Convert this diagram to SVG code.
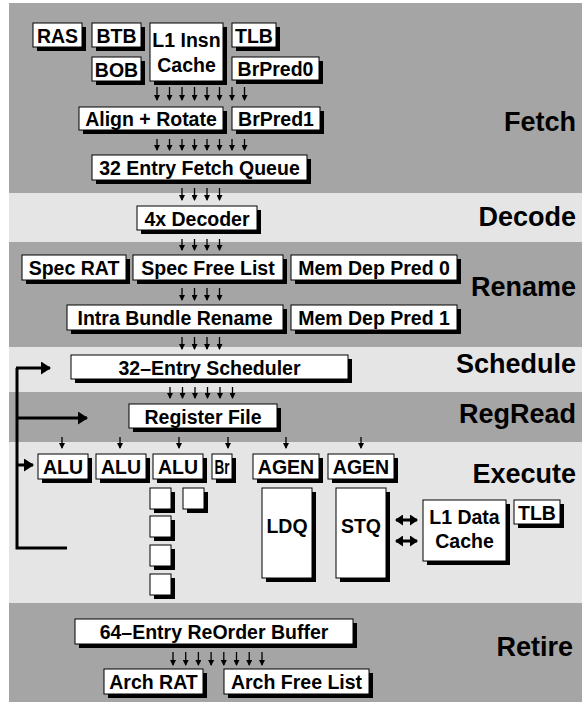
<svg xmlns="http://www.w3.org/2000/svg" width="582" height="704" viewBox="0 0 582 704">
<style>
.dk{fill:#a5a5a5}
.lt{fill:#e5e5e5}
.sh{fill:#000}
.bx{fill:#fff;stroke:#000;stroke-width:1}
.t{font-family:"Liberation Sans",Arial,Helvetica,sans-serif;font-weight:bold;font-size:19.5px;text-anchor:middle;fill:#000}
.lab{font-family:"Liberation Sans",Arial,Helvetica,sans-serif;font-weight:bold;font-size:27px;text-anchor:end;fill:#000}
.a{stroke:#000;stroke-width:1.3;fill:none;marker-end:url(#ah)}
.fb{stroke:#000;stroke-width:3;fill:none}
.fba{stroke:#000;stroke-width:3;fill:none;marker-end:url(#big)}
.dbl{stroke:#000;stroke-width:3;fill:none;marker-start:url(#dh);marker-end:url(#dh)}
</style>
<defs>
<marker id="ah" markerUnits="userSpaceOnUse" markerWidth="6" markerHeight="6" refX="5" refY="3" orient="auto"><path d="M0,0 L6,3 L0,6 z" fill="#000"/></marker>
<marker id="big" markerUnits="userSpaceOnUse" markerWidth="10" markerHeight="13" refX="9" refY="6.5" orient="auto"><path d="M0,0 L10,6.5 L0,13 z" fill="#000"/></marker>
<marker id="dh" markerUnits="userSpaceOnUse" markerWidth="8" markerHeight="11" refX="7" refY="5.5" orient="auto-start-reverse"><path d="M0,0 L8,5.5 L0,11 z" fill="#000"/></marker>
</defs>
<g id="bands">
<rect class="dk" x="9" y="3" width="573" height="190"/>
<rect class="lt" x="9" y="193" width="573" height="49"/>
<rect class="dk" x="9" y="242" width="573" height="105"/>
<rect class="lt" x="9" y="347" width="573" height="45"/>
<rect class="dk" x="9" y="392" width="573" height="50"/>
<rect class="lt" x="9" y="442" width="573" height="161"/>
<rect class="dk" x="9" y="603" width="573" height="99"/>
</g>
<g id="stage-labels">
<text class="lab" x="576" y="131">Fetch</text>
<text class="lab" x="576" y="226">Decode</text>
<text class="lab" x="576" y="296">Rename</text>
<text class="lab" x="576" y="373">Schedule</text>
<text class="lab" x="576" y="423">RegRead</text>
<text class="lab" x="576" y="483">Execute</text>
<text class="lab" x="573" y="656">Retire</text>
</g>
<g id="connectors">
<g id="arr-fetch1">
<line class="a" x1="157" y1="87" x2="157" y2="100"/><line class="a" x1="169.5" y1="87" x2="169.5" y2="100"/><line class="a" x1="182" y1="87" x2="182" y2="100"/><line class="a" x1="194.5" y1="87" x2="194.5" y2="100"/><line class="a" x1="207" y1="87" x2="207" y2="100"/><line class="a" x1="219.5" y1="87" x2="219.5" y2="100"/><line class="a" x1="232" y1="87" x2="232" y2="100"/><line class="a" x1="244.5" y1="87" x2="244.5" y2="100"/>
</g>
<g id="arr-fetch2">
<line class="a" x1="157" y1="139" x2="157" y2="150"/><line class="a" x1="169.5" y1="139" x2="169.5" y2="150"/><line class="a" x1="182" y1="139" x2="182" y2="150"/><line class="a" x1="194.5" y1="139" x2="194.5" y2="150"/><line class="a" x1="207" y1="139" x2="207" y2="150"/><line class="a" x1="219.5" y1="139" x2="219.5" y2="150"/><line class="a" x1="232" y1="139" x2="232" y2="150"/><line class="a" x1="244.5" y1="139" x2="244.5" y2="150"/>
</g>
<g id="arr-4">
<line class="a" x1="182" y1="188" x2="182" y2="200"/><line class="a" x1="194.5" y1="188" x2="194.5" y2="200"/><line class="a" x1="207" y1="188" x2="207" y2="200"/><line class="a" x1="219.5" y1="188" x2="219.5" y2="200"/>
<line class="a" x1="182" y1="239" x2="182" y2="250"/><line class="a" x1="194.5" y1="239" x2="194.5" y2="250"/><line class="a" x1="207" y1="239" x2="207" y2="250"/><line class="a" x1="219.5" y1="239" x2="219.5" y2="250"/>
<line class="a" x1="182" y1="288" x2="182" y2="300"/><line class="a" x1="194.5" y1="288" x2="194.5" y2="300"/><line class="a" x1="207" y1="288" x2="207" y2="300"/><line class="a" x1="219.5" y1="288" x2="219.5" y2="300"/>
<line class="a" x1="182" y1="337" x2="182" y2="349"/><line class="a" x1="194.5" y1="337" x2="194.5" y2="349"/><line class="a" x1="207" y1="337" x2="207" y2="349"/><line class="a" x1="219.5" y1="337" x2="219.5" y2="349"/>
</g>
<g id="arr-6">
<line class="a" x1="170" y1="387" x2="170" y2="398"/><line class="a" x1="182.5" y1="387" x2="182.5" y2="398"/><line class="a" x1="195" y1="387" x2="195" y2="398"/><line class="a" x1="207.5" y1="387" x2="207.5" y2="398"/><line class="a" x1="220" y1="387" x2="220" y2="398"/><line class="a" x1="232.5" y1="387" x2="232.5" y2="398"/>
</g>
<g id="arr-exec">
<line class="a" x1="62" y1="437" x2="62" y2="448"/><line class="a" x1="120" y1="437" x2="120" y2="448"/><line class="a" x1="179" y1="437" x2="179" y2="448"/><line class="a" x1="228" y1="437" x2="228" y2="448"/><line class="a" x1="286" y1="437" x2="286" y2="448"/><line class="a" x1="361" y1="437" x2="361" y2="448"/>
</g>
<g id="arr-retire">
<line class="a" x1="173" y1="652" x2="173" y2="665"/><line class="a" x1="185.7" y1="652" x2="185.7" y2="665"/><line class="a" x1="198.4" y1="652" x2="198.4" y2="665"/><line class="a" x1="211.1" y1="652" x2="211.1" y2="665"/><line class="a" x1="223.8" y1="652" x2="223.8" y2="665"/><line class="a" x1="236.5" y1="652" x2="236.5" y2="665"/><line class="a" x1="249.2" y1="652" x2="249.2" y2="665"/><line class="a" x1="262" y1="652" x2="262" y2="665"/>
</g>
<g id="feedback">
<polyline class="fb" points="67,548 17,548 17,368"/>
<line class="fba" x1="16" y1="368" x2="50" y2="368"/>
<line class="fba" x1="17" y1="418" x2="87" y2="418"/>
<line class="fba" x1="17" y1="465" x2="33" y2="465"/>
</g>
<g id="mem-arrows">
<line class="dbl" x1="396" y1="520" x2="417" y2="520"/>
<line class="dbl" x1="396" y1="541" x2="417" y2="541"/>
</g>
</g>
<g id="ras"><rect class="sh" x="37" y="27" width="49" height="24"/><rect class="bx" x="33" y="23" width="49" height="24"/><text class="t" x="57.5" y="42.5">RAS</text></g>
<g id="btb"><rect class="sh" x="96" y="27" width="49" height="24"/><rect class="bx" x="92" y="23" width="49" height="24"/><text class="t" x="116.5" y="42.5">BTB</text></g>
<g id="l1i"><rect class="sh" x="154" y="27" width="73" height="58"/><rect class="bx" x="150" y="23" width="73" height="58"/><text class="t" x="186.5" y="47">L1 Insn</text><text class="t" x="186.5" y="72">Cache</text></g>
<g id="itlb"><rect class="sh" x="236" y="27" width="44" height="24"/><rect class="bx" x="232" y="23" width="44" height="24"/><text class="t" x="254" y="42.5">TLB</text></g>
<g id="bob"><rect class="sh" x="96" y="61" width="49" height="24"/><rect class="bx" x="92" y="57" width="49" height="24"/><text class="t" x="116.5" y="76.5">BOB</text></g>
<g id="brpred0"><rect class="sh" x="236" y="61" width="87" height="23"/><rect class="bx" x="232" y="57" width="87" height="23"/><text class="t" x="275.5" y="75.5">BrPred0</text></g>
<g id="align"><rect class="sh" x="83" y="111" width="144" height="23"/><rect class="bx" x="79" y="107" width="144" height="23"/><text class="t" x="151" y="125.5">Align + Rotate</text></g>
<g id="brpred1"><rect class="sh" x="236" y="111" width="88" height="23"/><rect class="bx" x="232" y="107" width="88" height="23"/><text class="t" x="276" y="125.5">BrPred1</text></g>
<g id="fetchq"><rect class="sh" x="96" y="159" width="215" height="25"/><rect class="bx" x="92" y="155" width="215" height="25"/><text class="t" x="199.5" y="175">32 Entry Fetch Queue</text></g>
<g id="decoder"><rect class="sh" x="141" y="210" width="120" height="24"/><rect class="bx" x="137" y="206" width="120" height="24"/><text class="t" x="197" y="225.5">4x Decoder</text></g>
<g id="specrat"><rect class="sh" x="26" y="259" width="104" height="25"/><rect class="bx" x="22" y="255" width="104" height="25"/><text class="t" x="74" y="275">Spec RAT</text></g>
<g id="specfree"><rect class="sh" x="137" y="259" width="150" height="25"/><rect class="bx" x="133" y="255" width="150" height="25"/><text class="t" x="208" y="275">Spec Free List</text></g>
<g id="mdp0"><rect class="sh" x="295" y="259" width="166" height="25"/><rect class="bx" x="291" y="255" width="166" height="25"/><text class="t" x="374" y="275">Mem Dep Pred 0</text></g>
<g id="intra"><rect class="sh" x="71" y="309" width="216" height="25"/><rect class="bx" x="67" y="305" width="216" height="25"/><text class="t" x="175" y="325">Intra Bundle Rename</text></g>
<g id="mdp1"><rect class="sh" x="295" y="309" width="166" height="25"/><rect class="bx" x="291" y="305" width="166" height="25"/><text class="t" x="374" y="325">Mem Dep Pred 1</text></g>
<g id="sched"><rect class="sh" x="75" y="359" width="277" height="24"/><rect class="bx" x="71" y="355" width="277" height="24"/><text class="t" x="209.5" y="374.5">32–Entry Scheduler</text></g>
<g id="regfile"><rect class="sh" x="133" y="408" width="148" height="24"/><rect class="bx" x="129" y="404" width="148" height="24"/><text class="t" x="203" y="423.5">Register File</text></g>
<g id="alu0"><rect class="sh" x="42" y="458" width="50" height="25"/><rect class="bx" x="38" y="454" width="50" height="25"/><text class="t" x="63" y="474">ALU</text></g>
<g id="alu1"><rect class="sh" x="100" y="458" width="50" height="25"/><rect class="bx" x="96" y="454" width="50" height="25"/><text class="t" x="121" y="474">ALU</text></g>
<g id="alu2"><rect class="sh" x="157" y="458" width="50" height="25"/><rect class="bx" x="153" y="454" width="50" height="25"/><text class="t" x="178" y="474">ALU</text></g>
<g id="br"><rect class="sh" x="216" y="458" width="20" height="25"/><rect class="bx" x="212" y="454" width="20" height="25"/><text class="t" x="222" y="474" textLength="15" lengthAdjust="spacingAndGlyphs">Br</text></g>
<g id="agen0"><rect class="sh" x="257" y="458" width="66" height="25"/><rect class="bx" x="253" y="454" width="66" height="25"/><text class="t" x="286" y="474">AGEN</text></g>
<g id="agen1"><rect class="sh" x="332" y="458" width="66" height="25"/><rect class="bx" x="328" y="454" width="66" height="25"/><text class="t" x="361" y="474">AGEN</text></g>
<g id="sq0"><rect class="sh" x="154" y="492" width="21" height="21"/><rect class="bx" x="150" y="488" width="21" height="21"/></g>
<g id="sq1"><rect class="sh" x="187" y="492" width="21" height="21"/><rect class="bx" x="183" y="488" width="21" height="21"/></g>
<g id="sq2"><rect class="sh" x="154" y="520" width="21" height="21"/><rect class="bx" x="150" y="516" width="21" height="21"/></g>
<g id="sq3"><rect class="sh" x="154" y="549" width="21" height="21"/><rect class="bx" x="150" y="545" width="21" height="21"/></g>
<g id="sq4"><rect class="sh" x="154" y="578" width="21" height="21"/><rect class="bx" x="150" y="574" width="21" height="21"/></g>
<g id="ldq"><rect class="sh" x="266" y="492" width="50" height="90"/><rect class="bx" x="262" y="488" width="50" height="90"/><text class="t" x="287" y="533">LDQ</text></g>
<g id="stq"><rect class="sh" x="340" y="492" width="50" height="90"/><rect class="bx" x="336" y="488" width="50" height="90"/><text class="t" x="361" y="533">STQ</text></g>
<g id="l1d"><rect class="sh" x="427" y="504" width="83" height="61"/><rect class="bx" x="423" y="500" width="83" height="61"/><text class="t" x="464.5" y="524">L1 Data</text><text class="t" x="464.5" y="548">Cache</text></g>
<g id="dtlb"><rect class="sh" x="518" y="504" width="46" height="24"/><rect class="bx" x="514" y="500" width="46" height="24"/><text class="t" x="537" y="519.5">TLB</text></g>
<g id="rob"><rect class="sh" x="79" y="623" width="278" height="25"/><rect class="bx" x="75" y="619" width="278" height="25"/><text class="t" x="214" y="639">64–Entry ReOrder Buffer</text></g>
<g id="archrat"><rect class="sh" x="108" y="673" width="99" height="25"/><rect class="bx" x="104" y="669" width="99" height="25"/><text class="t" x="153.5" y="689">Arch RAT</text></g>
<g id="archfree"><rect class="sh" x="228" y="673" width="145" height="25"/><rect class="bx" x="224" y="669" width="145" height="25"/><text class="t" x="296.5" y="689">Arch Free List</text></g>
</svg>
